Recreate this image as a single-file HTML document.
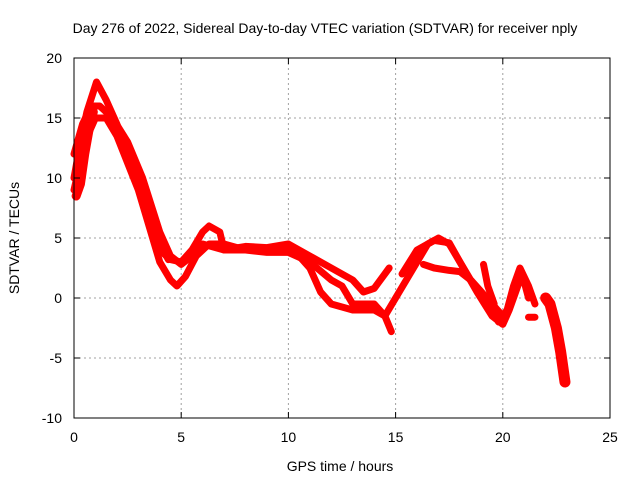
<!DOCTYPE html>
<html><head><meta charset="utf-8"><style>
body{margin:0;background:#fff}
svg{display:block;font-family:"Liberation Sans",sans-serif}
</style></head><body>
<svg id="chart" width="640" height="480">
<rect width="640" height="480" fill="#fff"/>
<text x="325" y="33" font-size="14" text-anchor="middle">Day 276 of 2022, Sidereal Day-to-day VTEC variation (SDTVAR) for receiver nply</text>
<g id="grid"></g>
<g id="series"></g>
<rect x="74" y="58" width="536" height="360" fill="none" stroke="#000" stroke-width="1"/>
<g id="ticks"></g>
<text x="340" y="471" font-size="14" text-anchor="middle">GPS time / hours</text>
<text transform="translate(19,238) rotate(-90)" font-size="14" text-anchor="middle">SDTVAR / TECUs</text>
</svg>
<script>
const xTicks=[0,5,10,15,20,25];
const yTicks=[-10,-5,0,5,10,15,20];
const sA_h=[0,0.3,0.6,1.05,1.5,2,2.5,3,3.5,4,4.5,5,5.5,6,6.3,6.8,7,8,9,10,11,12,13,13.5,14,14.7];
const sA_v=[10,13,15.5,18,16.5,14.5,12,10,7,4,3.2,3,4,5.5,6,5.5,4,4.3,4.2,4.5,3.5,2.5,1.5,0.5,0.8,2.5];
const sB_h=[0,0.5,1,1.5,2,3,3.5,4,4.5,4.8,5.2,5.7,6.3,7,8,10,10.5,11,11.5,12,13,14,14.5,15,15.5,16,16.5,17,17.5,18,18.5,19,19.5,19.8,20.2,20.5,20.8,21.2,21.5];
const sB_v=[9,13,15,15,13.5,9,6,3,1.5,1,1.8,3.5,4.5,4.5,4,4,3.5,2.5,0.5,-0.5,-1,-1,-1.5,0,1.5,3,4.5,5,4.5,3,1.5,0.5,-1,-2,-1,1,2.5,1,-0.5];
const sC_h=[0,0.4,0.8,1.2,1.8,2.5,3.2,4,4.5,5,5.5,6,7,8,9,10,11,12,12.5,13,14,14.5,14.8];
const sC_v=[12,14.5,16,16,15,13,10,5.5,3.5,2.8,3.5,4.5,4,4,3.8,3.8,3,1.5,1,-0.5,-0.5,-1.5,-2.8];
const sD_h=[15.3,16,16.8,17.5,18,18.8,19.5,20,20.3,20.6,20.9,21.2];
const sD_v=[2,4,4.8,4.6,3,0.5,-1.5,-2.2,-1,0.5,2,0];
const sE_h=[16.3,16.8,17.5,18,18.5,19.5,20];
const sE_v=[2.8,2.5,2.3,2.2,1.5,-0.5,-1.5];
const sF_h=[22,22.2,22.5,22.7,22.9];
const sF_v=[0,-0.5,-2.5,-4.5,-7];
const sG_h=[19.1,19.3,19.6];
const sG_v=[2.8,1,-0.5];
const sH_h=[21.2,21.5];
const sH_v=[-1.6,-1.6];
const sI_h=[0.1,0.3,0.5,0.7,0.9];
const sI_v=[8.5,9.5,12,14,15.5];
const sJ_h=[3.3,3.6,4,4.4];
const sJ_v=[8,6,4.5,3.2];
const series=[[sA_h,sA_v],[sB_h,sB_v],[sC_h,sC_v],[sD_h,sD_v],[sE_h,sE_v],[sF_h,sF_v],[sG_h,sG_v],[sH_h,sH_v],[sI_h,sI_v],[sJ_h,sJ_v]];
const widths=[7,7,7,7,7,11,7,7,9,7];
const X=h=>74+h*536/25, Y=v=>298-v*12;
const NS="http://www.w3.org/2000/svg";
const grid=document.getElementById('grid'),ticks=document.getElementById('ticks'),sg=document.getElementById('series');
function mk(tag,attrs,parent){const e=document.createElementNS(NS,tag);for(const k in attrs)e.setAttribute(k,attrs[k]);parent.appendChild(e);return e;}
xTicks.forEach(t=>{
  if(t>0&&t<25){const l=mk('line',{x1:X(t),x2:X(t),y1:58,y2:418,stroke:'#a0a0a0','stroke-dasharray':'2,3'},grid);
  
  }
  mk('line',{x1:X(t),x2:X(t),y1:418,y2:412,stroke:'#000'},ticks);
  mk('line',{x1:X(t),x2:X(t),y1:58,y2:64,stroke:'#000'},ticks);
  const tx=mk('text',{x:X(t),y:442,'font-size':14,'text-anchor':'middle'},ticks);tx.textContent=t;
  
  
});
yTicks.forEach(t=>{
  if(t>-10&&t<20){const l=mk('line',{x1:74,x2:610,y1:Y(t),y2:Y(t),stroke:'#a0a0a0','stroke-dasharray':'2,3'},grid);
  
  }
  mk('line',{x1:74,x2:80,y1:Y(t),y2:Y(t),stroke:'#000'},ticks);
  mk('line',{x1:610,x2:604,y1:Y(t),y2:Y(t),stroke:'#000'},ticks);
  const tx=mk('text',{x:62,y:Y(t)+5,'font-size':14,'text-anchor':'end'},ticks);tx.textContent=t;
  
  
});
series.forEach((s,i)=>{
  const pts=s[0].map((h,j)=>X(h)+','+Y(s[1][j])).join(' ');
  const p=mk('polyline',{points:pts,fill:'none',stroke:'#f00','stroke-width':widths[i],'stroke-linejoin':'round','stroke-linecap':'round'},sg);
  
  
});
</script>
</body></html>
